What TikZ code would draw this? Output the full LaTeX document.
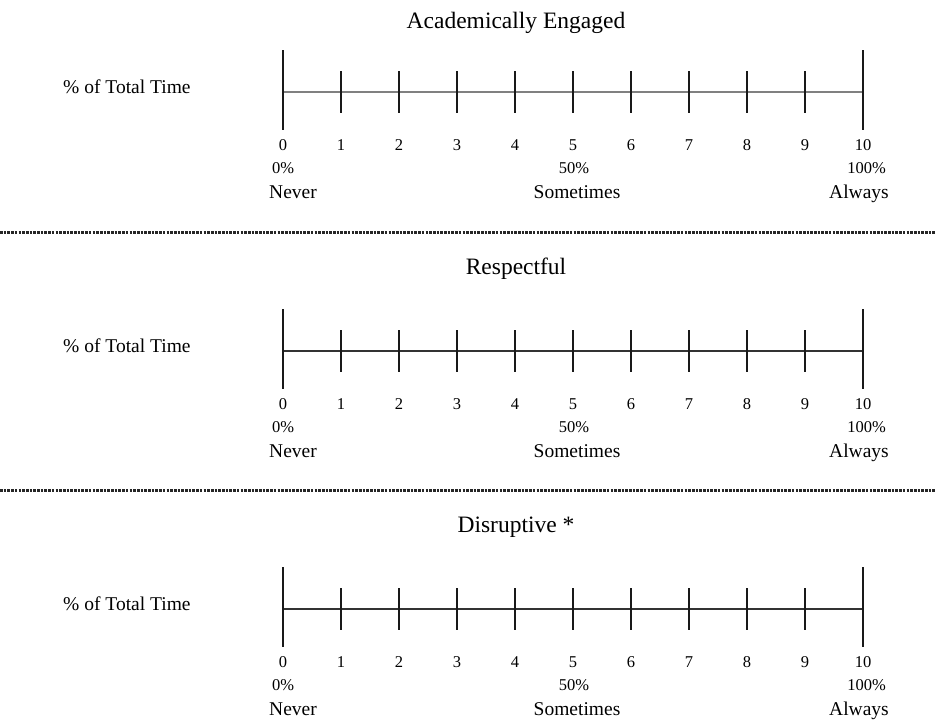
\documentclass[tikz,border=0pt]{standalone}
\usepackage{fontspec}
\setmainfont{Liberation Serif}
\begin{document}
\begin{tikzpicture}[x=1pt,y=-1pt,
  tickline/.style={line width=1.2pt, black!90},
  axisline/.style={line width=2.2pt},
  sepline/.style={line width=3pt, dash pattern=on 2.6pt off 1.1pt, black!85},
  titletext/.style={font=\fontsize{23.5}{26}\selectfont, anchor=base, inner sep=0pt},
  lbltext/.style={font=\fontsize{19.5}{22}\selectfont, anchor=base, inner sep=0pt},
  numtext/.style={font=\fontsize{16.5}{18}\selectfont, anchor=base, inner sep=0pt}]
\useasboundingbox (0,0) rectangle (935,726);
\fill[white] (0,0) rectangle (935,726);

\foreach \s/\ay/\ty/\ttl/\ac in {1/92/28/{Academically Engaged}/black!50, 2/351/274/{Respectful}/black!80, 3/609/532/{Disruptive *}/black!80} {
  \node[titletext] (t\s) at (516,\ty) {\ttl};
  \node[lbltext, anchor=base west] (p\s) at (63,\ay+1) {\% of Total Time};
  % axis
  \coordinate (s\s-a0) at (283,\ay);
  \coordinate (s\s-a10) at (283+580,\ay);
  \draw[axisline, \ac] (s\s-a0) -- (s\s-a10);
  % end ticks
  \coordinate (s\s-top0) at (283,\ay-42);
  \coordinate (s\s-bot0) at (283,\ay+38);
  \coordinate (s\s-top10) at (863,\ay-42);
  \coordinate (s\s-bot10) at (863,\ay+38);
  \draw[tickline] (s\s-top0) -- (s\s-bot0);
  \draw[tickline] (s\s-top10) -- (s\s-bot10);
  % small ticks
  \foreach \i in {1,...,9} {
    \coordinate (s\s-top\i) at (283+58*\i,\ay-21);
    \coordinate (s\s-bot\i) at (283+58*\i,\ay+21);
    \draw[tickline] (s\s-top\i) -- (s\s-bot\i);
  }
  % numbers
  \foreach \i in {0,...,10} {
    \node[numtext] (s\s-n\i) at (283+58*\i,\ay+58) {\i};
  }
  % percent and words
  \node[numtext, anchor=base west] (s\s-p0) at (272,\ay+81) {0\%};
  \node[numtext] (s\s-p50) at (574,\ay+81) {50\%};
  \node[numtext, anchor=base east] (s\s-p100) at (886,\ay+81) {100\%};
  \node[lbltext, anchor=base west] (s\s-never) at (269,\ay+106) {Never};
  \node[lbltext] (s\s-some) at (577,\ay+106) {Sometimes};
  \node[lbltext, anchor=base east] (s\s-always) at (889,\ay+106) {Always};
}

% separators
\coordinate (L1) at (0,232);
\coordinate (R1) at (935,232);
\coordinate (L2) at (0,490);
\coordinate (R2) at (935,490);
\draw[sepline] (L1) -- (R1);
\draw[sepline] (L2) -- (R2);
\end{tikzpicture}
\end{document}
